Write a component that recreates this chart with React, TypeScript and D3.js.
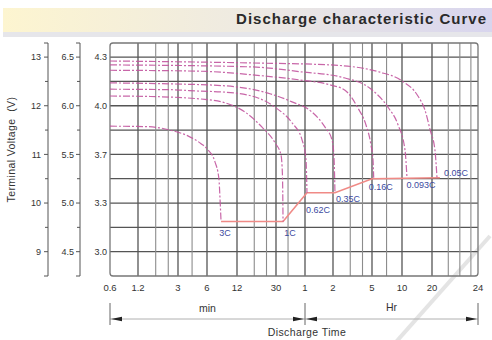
import { useEffect, useRef } from "react";
import * as d3 from "d3";

// discharge time ticks, in minutes (labels switch to hours after 30 min)
const timeTicks = [0.6, 1.2, 3, 6, 12, 30, 60, 120, 300, 600, 1200, 1440];
const timeLabels = ["0.6", "1.2", "3", "6", "12", "30", "1", "2", "5", "10", "20", "24"];
const timeMinor = [1.8, 2.4, 4.2, 18, 24, 40, 180, 240, 420, 1280, 1340, 1400];

// voltage scales: 12V pack, 6V pack, single cell
const packTicks = [9, 10, 11, 12, 13];
const halfLabels = ["4.5", "5.0", "5.5", "6.0", "6.5"];
const cellLabels = ["3.0", "3.3", "3.7", "4.0", "4.3"];
const gridVolts = [9, 9.5, 10, 10.5, 11, 11.5, 12, 12.5, 13];

const rates = ["3C", "1C", "0.62C", "0.35C", "0.16C", "0.093C", "0.05C"];

// [minutes, volts (12V scale)]
const curve3C = [[0.6, 11.58], [1.5, 11.57], [2.5, 11.5], [3.8, 11.38], [5.2, 11.22], [6.1, 11.1], [7.2, 10.85], [7.9, 10.5], [8.1, 10.1], [8.3, 9.62]];
const curve1C = [[0.6, 12.2], [1.6, 12.19], [5.7, 12.13], [9.1, 12.06], [14.5, 11.87], [21.6, 11.56], [29.3, 11.24], [33.8, 10.99], [35, 10.58], [35.5, 9.62]];
const curve062C = [[0.6, 12.34], [2.5, 12.33], [5.1, 12.3], [9.1, 12.28], [19.7, 12.16], [29.3, 11.97], [44, 11.65], [55.9, 11.3], [61.5, 10.89], [63, 10.21]];
const curve035C = [[0.6, 12.47], [2.5, 12.45], [9.1, 12.41], [24.8, 12.26], [44, 12.08], [71.4, 11.87], [98.5, 11.56], [117, 11.3], [122.8, 10.95], [125.7, 10.21]];
const curve016C = [[0.6, 12.73], [5.1, 12.71], [20.6, 12.62], [53.3, 12.53], [111.5, 12.43], [159, 12.32], [216, 11.95], [260, 11.61], [293, 11.19], [307, 10.89], [312, 10.52]];
const curve0093C = [[0.6, 12.84], [16.3, 12.8], [53.3, 12.7], [159, 12.57], [286, 12.36], [434, 11.97], [547, 11.61], [643, 11.09], [673, 10.52]];
const curve005C = [[0.6, 12.92], [16.3, 12.88], [111.5, 12.84], [361, 12.69], [600, 12.51], [867, 12.2], [1020, 11.91], [1150, 11.5], [1214, 11.09], [1224, 10.52]];

// cut-off voltage line joining curve ends
const endVoltage = [[8.3, 9.62], [35.5, 9.62], [63, 10.21], [125.7, 10.21], [300, 10.5], [1238, 10.52]];

export default function App() {
    const svgRef = useRef<SVGSVGElement | null>(null);

    useEffect(() => {
        if (!svgRef.current) return;
        const root = d3.select(svgRef.current);
        root.selectAll("*").remove();

        const width = 492;
        const height = 340;
        const plot = { left: 110, right: 478, top: 43, bottom: 276 };
        const font = "Liberation Sans, Arial, sans-serif";

        root.attr("width", width).attr("height", height);

        // uneven time axis as drawn on the original sheet
        const xKnotPx = [0, 28, 68, 97, 127, 166, 195, 223, 262, 292, 322, 368];
        const xs = d3
            .scaleLinear()
            .domain(timeTicks.map(Math.log10))
            .range(xKnotPx.map((p) => plot.left + p));
        const x = (m: number) => xs(Math.log10(m));

        const y = d3.scaleLinear().domain([8.5, 13.29]).range([plot.bottom, plot.top]);

        // title banner
        const defs = root.append("defs");
        const grad = defs.append("linearGradient").attr("id", "banner");
        grad.append("stop").attr("offset", "0%").attr("stop-color", "#fdf5d0");
        grad.append("stop").attr("offset", "50%").attr("stop-color", "#eeeae2");
        grad.append("stop").attr("offset", "100%").attr("stop-color", "#d8d5ee");
        root.append("rect").attr("x", 3).attr("y", 8).attr("width", width - 3).attr("height", 24).attr("fill", "url(#banner)");
        root.append("rect").attr("x", 3).attr("y", 32).attr("width", width - 3).attr("height", 5).attr("fill", "#e6e6ea");
        root.append("text")
            .attr("x", 487)
            .attr("y", 24)
            .attr("text-anchor", "end")
            .attr("font-family", font)
            .attr("font-weight", "bold")
            .attr("font-size", 15)
            .attr("letter-spacing", 1)
            .attr("fill", "#2a2a2a")
            .text("Discharge characteristic Curve");

        // faint watermark stroke
        root.append("line")
            .attr("x1", 396).attr("y1", 342).attr("x2", 490).attr("y2", 236)
            .attr("stroke", "#e4e4e4").attr("stroke-width", 4);

        // grid
        const g = root.append("g");
        g.selectAll(".hgrid")
            .data(gridVolts)
            .enter()
            .append("line")
            .attr("x1", plot.left).attr("x2", plot.right)
            .attr("y1", (d) => y(d)).attr("y2", (d) => y(d))
            .attr("stroke", "#555").attr("stroke-width", 1.3);

        g.selectAll(".vminor")
            .data(timeMinor)
            .enter()
            .append("line")
            .attr("x1", (d) => x(d)).attr("x2", (d) => x(d))
            .attr("y1", plot.top).attr("y2", plot.bottom)
            .attr("stroke", "#8c8c8c").attr("stroke-width", 1.1);

        g.selectAll(".vmajor")
            .data(timeTicks.slice(1, -1))
            .enter()
            .append("line")
            .attr("x1", (d) => x(d)).attr("x2", (d) => x(d))
            .attr("y1", plot.top).attr("y2", plot.bottom)
            .attr("stroke", "#555").attr("stroke-width", 1.3);

        g.append("rect")
            .attr("x", plot.left).attr("y", plot.top)
            .attr("width", plot.right - plot.left).attr("height", plot.bottom - plot.top)
            .attr("rx", 3)
            .attr("fill", "none").attr("stroke", "#777").attr("stroke-width", 1.3);

        // left bracket axes
        const bracket = (ax: number, labels: string[], labelX: number) => {
            const a = root.append("g").attr("stroke", "#555").attr("stroke-width", 1);
            a.append("path").attr("fill", "none")
                .attr("d", `M${ax - 4},${plot.top}H${ax}V${plot.bottom}H${ax - 4}`);
            a.selectAll(".maj").data(packTicks).enter().append("line")
                .attr("x1", ax - 4).attr("x2", ax).attr("y1", (d) => y(d)).attr("y2", (d) => y(d));
            a.selectAll(".min").data(gridVolts.filter((v) => v % 1 !== 0)).enter().append("line")
                .attr("x1", ax - 3).attr("x2", ax).attr("y1", (d) => y(d)).attr("y2", (d) => y(d));
            root.append("g").selectAll("text").data(labels).enter().append("text")
                .attr("x", labelX)
                .attr("y", (_, i) => y(packTicks[i]))
                .attr("dy", "0.35em")
                .attr("text-anchor", "end")
                .attr("font-family", font).attr("font-size", 9)
                .attr("fill", "#333")
                .text((d) => d);
        };
        bracket(48, packTicks.map(String), 41);
        bracket(80, halfLabels, 74);
        root.append("g").selectAll("text").data(cellLabels).enter().append("text")
            .attr("x", 107)
            .attr("y", (_, i) => y(packTicks[i]))
            .attr("dy", "0.35em")
            .attr("text-anchor", "end")
            .attr("font-family", font).attr("font-size", 9)
            .attr("fill", "#333")
            .text((d) => d);

        root.append("text")
            .attr("transform", `translate(15,${y(11.1)}) rotate(-90)`)
            .attr("text-anchor", "middle")
            .attr("font-family", font).attr("font-size", 10.5)
            .attr("letter-spacing", 0.4)
            .attr("fill", "#333")
            .text("Terminal Voltage  (V)")
            .attr("xml:space", "preserve");

        // x tick labels
        root.append("g").selectAll("text").data(timeTicks).enter().append("text")
            .attr("x", (d) => x(d))
            .attr("y", 291)
            .attr("text-anchor", "middle")
            .attr("font-family", font).attr("font-size", 9.5)
            .attr("fill", "#333")
            .text((_, i) => timeLabels[i]);

        // min / Hr dimension line
        const dimY = 319;
        const stops = [0.6, 60, 1440];
        const dim = root.append("g");
        dim.append("line")
            .attr("x1", x(0.6)).attr("x2", x(1440)).attr("y1", dimY).attr("y2", dimY)
            .attr("stroke", "#b0b0b0").attr("stroke-width", 1);
        dim.selectAll(".stop").data(stops).enter().append("line")
            .attr("x1", (d) => x(d)).attr("x2", (d) => x(d))
            .attr("y1", 303).attr("y2", 325)
            .attr("stroke", "#666").attr("stroke-width", 1);
        const arrows = [
            { at: x(0.6) + 1, dir: -1 },
            { at: x(60) - 1, dir: 1 },
            { at: x(60) + 1, dir: -1 },
            { at: x(1440) - 1, dir: 1 },
        ];
        dim.selectAll(".arrow").data(arrows).enter().append("path")
            .attr("d", (d) => `M${d.at},${dimY}L${d.at - d.dir * 11},${dimY - 2.2}L${d.at - d.dir * 11},${dimY + 2.2}Z`)
            .attr("fill", "#222");
        dim.append("text")
            .attr("x", (x(0.6) + x(60)) / 2).attr("y", 312)
            .attr("text-anchor", "middle")
            .attr("font-family", font).attr("font-size", 10.5).attr("fill", "#333")
            .text("min");
        dim.append("text")
            .attr("x", (x(60) + x(1440)) / 2).attr("y", 311)
            .attr("text-anchor", "middle")
            .attr("font-family", font).attr("font-size", 10.5).attr("fill", "#333")
            .text("Hr");
        dim.append("text")
            .attr("x", x(60) + 2).attr("y", 336)
            .attr("text-anchor", "middle")
            .attr("font-family", font).attr("font-size", 10.5)
            .attr("letter-spacing", 0.4).attr("fill", "#333")
            .text("Discharge Time");

        // curves
        const curves = [curve3C, curve1C, curve062C, curve035C, curve016C, curve0093C, curve005C];
        const line = d3
            .line<number[]>()
            .x((d) => x(d[0]))
            .y((d) => y(d[1]))
            .curve(d3.curveMonotoneX);

        root.append("path")
            .datum(endVoltage)
            .attr("d", line.curve(d3.curveLinear))
            .attr("fill", "none")
            .attr("stroke", "#f08a86")
            .attr("stroke-width", 1.6);
        line.curve(d3.curveMonotoneX);

        root.append("g").selectAll("path").data(curves).enter().append("path")
            .attr("d", (d) => line(d))
            .attr("fill", "none")
            .attr("stroke", "#c2559f")
            .attr("stroke-opacity", 0.9)
            .attr("stroke-width", 1.2)
            .attr("stroke-dasharray", "7,2,2,2");

        const labelNudge = [[4, 14], [7, 14], [11, 20], [13, 9], [7, 12], [14, 10], [19, -2]];
        root.append("g").selectAll("text").data(curves).enter().append("text")
            .attr("x", (d, i) => x(d[d.length - 1][0]) + labelNudge[i][0])
            .attr("y", (d, i) => y(d[d.length - 1][1]) + labelNudge[i][1])
            .attr("text-anchor", "middle")
            .attr("font-family", font).attr("font-size", 9)
            .attr("fill", "#3d4aa0")
            .text((_, i) => rates[i]);
    }, []);

    return (
        <svg
            ref={svgRef}
            style={{ position: "absolute", left: 0, top: 0, display: "block", background: "#fff" }}
        />
    );
}
